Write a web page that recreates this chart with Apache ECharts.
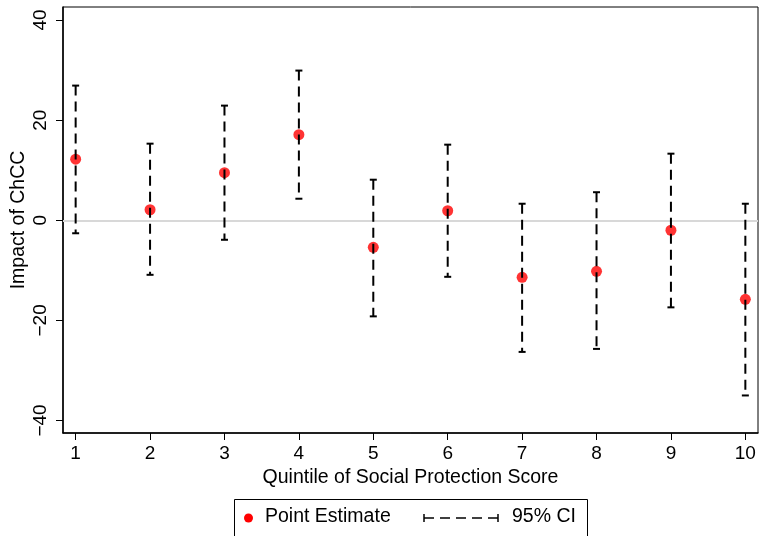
<!DOCTYPE html>
<html>
<head>
<meta charset="utf-8">
<script src="https://cdn.jsdelivr.net/npm/echarts@6/dist/echarts.min.js"></script>
<style>
html,body{margin:0;padding:0;background:#fff;}
#chart{width:759px;height:536px;}
</style>
</head>
<body>
<div id="chart"></div>
<script>
const categories = [1, 2, 3, 4, 5, 6, 7, 8, 9, 10];
const estimates = [12.2, 2.1, 9.5, 17.1, -5.4, 1.9, -11.4, -10.2, -2.0, -15.8];
const upperCI = [26.9, 15.3, 22.9, 29.9, 8.1, 15.1, 3.3, 5.6, 13.3, 3.3];
const lowerCI = [-2.6, -10.9, -3.9, 4.3, -19.2, -11.3, -26.3, -25.7, -17.4, -35.0];
const yTicks = [-40, -20, 0, 20, 40];

const FONT = "'Liberation Sans', Arial, Helvetica, sans-serif";
const chart = echarts.init(document.getElementById('chart'), null, {renderer: 'canvas'});

const pointData = categories.map((c, i) => [c, estimates[i]]);
const ciData = categories.map((c, i) => [c, lowerCI[i], upperCI[i]]);

function renderCI(params, api) {
  const x = api.value(0);
  const lo = api.coord([x, api.value(1)]);
  const hi = api.coord([x, api.value(2)]);
  const hw = 3.5;
  const style = {stroke: '#000', lineWidth: 2, fill: null};
  return {
    type: 'group',
    children: [
      {type: 'line', shape: {x1: lo[0], y1: hi[1], x2: lo[0], y2: lo[1]},
       style: Object.assign({}, style, {lineDash: [10, 6]})},
      {type: 'line', shape: {x1: hi[0] - hw, y1: hi[1], x2: hi[0] + hw, y2: hi[1]}, style: style},
      {type: 'line', shape: {x1: lo[0] - hw, y1: lo[1], x2: lo[0] + hw, y2: lo[1]}, style: style}
    ]
  };
}

const option = {
  animation: false,
  backgroundColor: '#fff',
  grid: {left: 63, right: 1, top: 7, height: 426, show: true, borderColor: '#000', borderWidth: 1,
         containLabel: false, outerBoundsMode: 'none'},
  xAxis: {
    type: 'value', min: 0.83, max: 10.17,
    name: 'Quintile of Social Protection Score',
    nameLocation: 'middle', nameGap: 35, nameMoveOverlap: false,
    nameTextStyle: {fontFamily: FONT, fontSize: 19.5, color: '#000'},
    axisLine: {show: true, onZero: false, lineStyle: {color: '#000', width: 1.5}},
    axisTick: {show: true, length: 7, customValues: categories, lineStyle: {color: '#000', width: 1}},
    axisLabel: {customValues: categories, fontFamily: FONT, fontSize: 19, color: '#000', margin: 11},
    splitLine: {show: false}
  },
  yAxis: {
    type: 'value', min: -42.5, max: 42.6,
    name: 'Impact of ChCC',
    nameLocation: 'middle', nameGap: 34, nameRotate: 90, nameMoveOverlap: false,
    nameTextStyle: {fontFamily: FONT, fontSize: 19.5, color: '#000'},
    axisLine: {show: true, onZero: false, lineStyle: {color: '#000', width: 1.5}},
    axisTick: {show: true, length: 7, customValues: yTicks, lineStyle: {color: '#000', width: 1}},
    axisLabel: {customValues: yTicks, rotate: 90, fontFamily: FONT, fontSize: 19, color: '#000', margin: 13,
                formatter: v => String(v).replace('-', '\u2212')},
    splitLine: {show: false}
  },
  series: [
    {
      type: 'scatter', name: 'Point Estimate', data: pointData,
      symbol: 'circle', symbolSize: 11, z: 2,
      itemStyle: {color: '#ff0000'},
      markLine: {
        silent: true, symbol: 'none', label: {show: false},
        lineStyle: {color: '#d8d8d8', width: 2, type: 'solid'},
        data: [{yAxis: 0}], z: 1
      }
    },
    {
      type: 'custom', name: '95% CI', data: ciData, renderItem: renderCI, z: 3
    }
  ],
  graphic: [
    {type: 'rect', shape: {x: 234.5, y: 499.5, width: 353, height: 50},
     style: {fill: '#fff', stroke: '#000', lineWidth: 1}},
    {type: 'circle', shape: {cx: 248.5, cy: 518, r: 4.5}, style: {fill: '#ff0000'}},
    {type: 'text', left: 265, top: 507, style: {text: 'Point Estimate', font: "19.5px 'Liberation Sans', Arial, sans-serif", fill: '#000'}},
    {type: 'line', shape: {x1: 424, y1: 518, x2: 498, y2: 518}, style: {stroke: '#000', lineWidth: 1.5, lineDash: [10, 6]}},
    {type: 'line', shape: {x1: 424, y1: 514, x2: 424, y2: 522}, style: {stroke: '#000', lineWidth: 1.5}},
    {type: 'line', shape: {x1: 498, y1: 514, x2: 498, y2: 522}, style: {stroke: '#000', lineWidth: 1.5}},
    {type: 'text', left: 512, top: 507, style: {text: '95% CI', font: "19.5px 'Liberation Sans', Arial, sans-serif", fill: '#000'}}
  ]
};
chart.setOption(option);
</script>
</body>
</html>
